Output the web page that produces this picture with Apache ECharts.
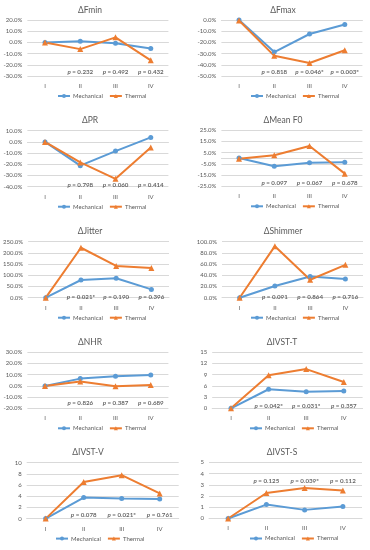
<!DOCTYPE html>
<html><head><meta charset="utf-8">
<script src="https://cdn.jsdelivr.net/npm/echarts@6/dist/echarts.min.js"></script>
<style>html,body{margin:0;padding:0;background:#fff}#c{width:370px;height:550px}</style>
</head><body><div id="c"></div><script>
// ---- data ----
const categories = ['I', 'II', 'III', 'IV'];
const seriesNames = ['Mechanical', 'Thermal'];

const fminMech = [0, 1.0, -0.8, -5.5];
const fminTherm = [0, -6.0, 4.5, -16.0];
const fmaxMech = [0, -28.6, -12.5, -4.0];
const fmaxTherm = [-0.5, -32.0, -38.4, -27.0];
const prMech = [0, -21.2, -8.2, 4.0];
const prTherm = [0, -18.3, -33.0, -5.0];
const meanF0Mech = [0.3, -7.1, -3.9, -3.6];
const meanF0Therm = [-0.3, 2.7, 11.0, -13.7];
const jitterMech = [0, 79, 87, 37];
const jitterTherm = [0, 223, 142, 133];
const shimmerMech = [0, 21, 38, 33.5];
const shimmerTherm = [0, 92, 32, 58.7];
const nhrMech = [0, 6.5, 8.6, 9.8];
const nhrTherm = [0, 3.9, -0.3, 0.9];
const ivstTMech = [0, 5.1, 4.45, 4.65];
const ivstTTherm = [0, 8.85, 10.5, 7.05];
const ivstVMech = [0, 3.75, 3.57, 3.5];
const ivstVTherm = [0, 6.55, 7.75, 4.5];
const ivstSMech = [0, 1.24, 0.77, 1.07];
const ivstSTherm = [0, 2.28, 2.72, 2.49];

const fminTicks = [-30, -20, -10, 0, 10, 20];
const fmaxTicks = [-50, -40, -30, -20, -10, 0];
const prTicks = [-40, -30, -20, -10, 0, 10];
const meanF0Ticks = [-25, -15, -5, 5, 15, 25];
const jitterTicks = [0, 50, 100, 150, 200, 250];
const shimmerTicks = [0, 20, 40, 60, 80, 100];
const nhrTicks = [-20, -10, 0, 10, 20, 30];
const ivstTTicks = [0, 3, 6, 9, 12, 15];
const ivstVTicks = [0, 2, 4, 6, 8, 10];
const ivstSTicks = [0, 1, 2, 3, 4, 5];

const pFmin = ['0.232', '0.492', '0.432'];
const pFmax = ['0.818', '0.046*', '0.003*'];
const pPR = ['0.798', '0.060', '0.414'];
const pMeanF0 = ['0.097', '0.067', '0.678'];
const pJitter = ['0.021*', '0.190', '0.396'];
const pShimmer = ['0.091', '0.864', '0.716'];
const pNHR = ['0.826', '0.387', '0.689'];
const pIvstT = ['0.042*', '0.031*', '0.357'];
const pIvstV = ['0.078', '0.021*', '0.761'];
const pIvstS = ['0.125', '0.039*', '0.112'];

// ---- layout ----
const panels = [
  {title: 'ΔFmin', mech: fminMech, therm: fminTherm, ticks: fminTicks, p: pFmin, pct: true, x: 27.4, w: 141, top: 20, tx: 90, pFrac: 0.077},
  {title: 'ΔFmax', mech: fmaxMech, therm: fmaxTherm, ticks: fmaxTicks, p: pFmax, pct: true, x: 221.4, w: 141, top: 20, tx: 283, pFrac: 0.071},
  {title: 'ΔPR', mech: prMech, therm: prTherm, ticks: prTicks, p: pPR, pct: true, x: 27.4, w: 141, top: 130.7, tx: 90, pFrac: 0.03},
  {title: 'ΔMean F0', mech: meanF0Mech, therm: meanF0Therm, ticks: meanF0Ticks, p: pMeanF0, pct: true, x: 221.4, w: 141, top: 130.3, tx: 283, pFrac: 0.06},
  {title: 'ΔJitter', mech: jitterMech, therm: jitterTherm, ticks: jitterTicks, p: pJitter, pct: true, x: 28, w: 141, top: 241.7, tx: 90, pFrac: 0.012},
  {title: 'ΔShimmer', mech: shimmerMech, therm: shimmerTherm, ticks: shimmerTicks, p: pShimmer, pct: true, x: 222, w: 141, top: 241.7, tx: 283, pFrac: 0.005},
  {title: 'ΔNHR', mech: nhrMech, therm: nhrTherm, ticks: nhrTicks, p: pNHR, pct: true, x: 27.4, w: 141, top: 352.3, tx: 90, pFrac: 0.10},
  {title: 'ΔIVST-T', mech: ivstTMech, therm: ivstTTherm, ticks: ivstTTicks, p: pIvstT, pct: false, x: 212.2, w: 150.4, top: 352.3, tx: 282, pFrac: 0.04},
  {title: 'ΔIVST-V', mech: ivstVMech, therm: ivstVTherm, ticks: ivstVTicks, p: pIvstV, pct: false, x: 26.7, w: 152, top: 462.6, tx: 88, pFrac: 0.06},
  {title: 'ΔIVST-S', mech: ivstSMech, therm: ivstSTherm, ticks: ivstSTicks, p: pIvstS, pct: false, x: 209, w: 153, top: 462.5, tx: 282, pFrac: 0.675}
];
const H = 56;
const FONT = 'Lato, "Liberation Sans", sans-serif';
const GREY = '#595959';
const BLUE = '#5B9BD5';
const ORANGE = '#ED7D31';

const grid = [], xAxis = [], yAxis = [], series = [], legend = [], graphic = [];
panels.forEach((pn, i) => {
  const min = pn.ticks[0], max = pn.ticks[pn.ticks.length - 1];
  const interval = pn.ticks[1] - pn.ticks[0];
  grid.push({left: pn.x, top: pn.top, width: pn.w, height: H, containLabel: false});
  xAxis.push({
    type: 'category', gridIndex: i, data: categories, boundaryGap: true,
    axisLine: {show: true, lineStyle: {color: '#D9D9D9'}}, axisTick: {show: false},
    axisLabel: {color: GREY, fontSize: 6, fontFamily: FONT, margin: 7}
  });
  yAxis.push({
    type: 'value', gridIndex: i, min: min, max: max, interval: interval,
    axisLine: {show: false}, axisTick: {show: false},
    splitLine: {lineStyle: {color: '#D9D9D9', width: 1}},
    axisLabel: {color: GREY, fontSize: 6, fontFamily: FONT, margin: 5,
      formatter: v => pn.pct ? v.toFixed(1) + '%' : String(v)}
  });
  series.push({
    name: 'Mechanical', type: 'line', xAxisIndex: i, yAxisIndex: i, data: pn.mech,
    symbol: 'circle', symbolSize: 5, showAllSymbol: true,
    lineStyle: {color: BLUE, width: 2}, itemStyle: {color: BLUE}, z: 3
  });
  series.push({
    name: 'Thermal', type: 'line', xAxisIndex: i, yAxisIndex: i, data: pn.therm,
    symbol: 'triangle', symbolSize: 6, showAllSymbol: true,
    lineStyle: {color: ORANGE, width: 2}, itemStyle: {color: ORANGE}, z: 3
  });
  const py = min + pn.pFrac * (max - min);
  series.push({
    name: 'p' + i, type: 'scatter', xAxisIndex: i, yAxisIndex: i, silent: true,
    symbolSize: 0, z: 5,
    data: pn.p.map((t, k) => ({value: [k + 1, py], pText: t})),
    label: {
      show: true, position: 'inside',
      formatter: params => '{i|p} = ' + pn.p[params.dataIndex],
      color: '#404040', fontSize: 6.2, fontWeight: 'bold', fontFamily: FONT,
      rich: {i: {fontStyle: 'italic', fontWeight: 'bold', fontSize: 6.2, color: '#404040', fontFamily: FONT}}
    }
  });
  legend.push({
    data: seriesNames, left: pn.tx - 33, top: pn.top + H + 17,
    itemWidth: 12, itemHeight: 5, itemGap: 6, padding: 0,
    textStyle: {color: GREY, fontSize: 6, fontFamily: FONT, padding: [0, 0, 0, -2]},
    selectedMode: false
  });
  graphic.push({
    type: 'text', x: pn.tx, y: pn.top - 10,
    style: {text: pn.title, textAlign: 'center', textVerticalAlign: 'middle',
      fill: GREY, fontSize: 8.5, fontFamily: FONT}
  });
});

const chart = echarts.init(document.getElementById('c'), null, {renderer: 'canvas'});
chart.setOption({
  animation: false,
  backgroundColor: '#fff',
  grid, xAxis, yAxis, series, legend, graphic
});
</script></body></html>
